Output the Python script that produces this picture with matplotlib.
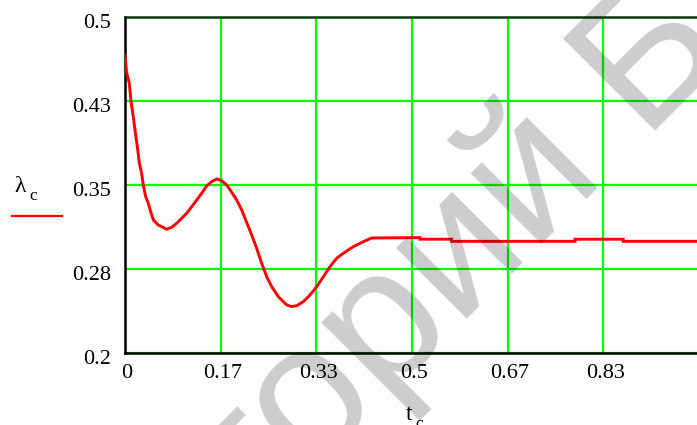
import numpy as np
import matplotlib
matplotlib.use("Agg")
import matplotlib.pyplot as plt
from matplotlib.transforms import ScaledTranslation
from matplotlib.textpath import TextToPath
from matplotlib.font_manager import FontProperties

# ---- data ----
t_c = [0.0, 0.003, 0.0075, 0.0105, 0.0145, 0.0174, 0.0215, 0.025, 0.029, 0.032,
       0.036, 0.0406, 0.0447, 0.0494, 0.058, 0.0726, 0.0813, 0.090, 0.0987, 0.1074,
       0.1162, 0.1249, 0.1336, 0.1423, 0.151, 0.1597, 0.1684, 0.1771, 0.1859, 0.1946,
       0.2033, 0.212, 0.2207, 0.2294, 0.2381, 0.2469, 0.2556, 0.2671, 0.2817, 0.290,
       0.2991, 0.3106, 0.3223, 0.334, 0.3455, 0.3571, 0.3688, 0.3803, 0.3977, 0.4152,
       0.4298, 0.514, 0.514, 0.569, 0.569, 0.784, 0.784, 0.868, 0.868, 1.0]
lambda_c = [0.465, 0.450, 0.4408, 0.4244, 0.411, 0.399, 0.3842, 0.3694, 0.3604, 0.3494,
            0.3396, 0.3337, 0.3262, 0.3188, 0.3143, 0.3105, 0.3122, 0.3158, 0.3203, 0.3247,
            0.3306, 0.3366, 0.3426, 0.3491, 0.3530, 0.3554, 0.3539, 0.3500, 0.3435, 0.3366,
            0.3277, 0.3166, 0.3054, 0.2935, 0.2801, 0.2681, 0.2592, 0.2503, 0.2429, 0.2415,
            0.2422, 0.2458, 0.2518, 0.2592, 0.2681, 0.2771, 0.2846, 0.2890, 0.2949, 0.2994,
            0.3027, 0.3030, 0.3016, 0.3016, 0.2997, 0.2997, 0.3016, 0.3016, 0.2997, 0.2997]
x_ticks = [0, 1/6, 2/6, 3/6, 4/6, 5/6, 1.0]
x_labels = ["0", "0.17", "0.33", "0.5", "0.67", "0.83", ""]
y_ticks = [0.2, 0.275, 0.35, 0.425, 0.5]
y_labels = ["0.2", "0.28", "0.35", "0.43", "0.5"]
watermark = "Репозиторий БГУИР"

W, H, DPI = 697, 425, 100
fig = plt.figure(figsize=(W / DPI, H / DPI), dpi=DPI)
serif = "Liberation Serif"

L, R, T, B = 125, 699, 17, 353
ax = fig.add_axes([L / W, (H - B) / H, (R - L) / W, (B - T) / H])
ax.set_facecolor("white")
ax.set_xlim(0, 1)
ax.set_ylim(0.2, 0.5)
ax.set_xticks(x_ticks)
ax.set_xticklabels(x_labels, fontfamily=serif, fontsize=16)
ax.set_yticks(y_ticks)
ax.set_yticklabels(y_labels, fontfamily=serif, fontsize=16)
ax.tick_params(length=0, pad=8)
ax.tick_params(axis="y", pad=10)
ax.grid(True, color="#00ff00", linewidth=1.6, zorder=1)
ax.set_axisbelow(True)
for s in ["left", "bottom"]:
    ax.spines[s].set_color("black")
    ax.spines[s].set_linewidth(1.8)
ax.spines["top"].set_color("#0a3a0a")
ax.spines["top"].set_linewidth(1.8)
ax.spines["right"].set_visible(False)

for lab in ax.get_yticklabels():
    lab.set_transform(lab.get_transform() + ScaledTranslation(0, -4 / DPI, fig.dpi_scale_trans))
for lab in ax.get_xticklabels():
    lab.set_transform(lab.get_transform() + ScaledTranslation(2 / DPI, 0, fig.dpi_scale_trans))

ax.plot(t_c, lambda_c, color="red", linewidth=2.1, zorder=3, solid_joinstyle="miter")

def px(x, y):
    return x / W, 1 - y / H

# legend-style y label
fig.text(*px(14, 192), "λ", fontfamily=serif, fontsize=17, va="baseline", ha="left")
fig.text(*px(29.5, 200), "c", fontfamily=serif, fontsize=12.5, va="baseline", ha="left")
fig.add_artist(plt.Line2D([12 / W, 62 / W], [1 - 215.7 / H, 1 - 215.7 / H],
                          color="red", linewidth=1.6))

# x label
fig.text(*px(406, 420), "t", fontfamily=serif, fontsize=17, va="baseline", ha="left")
fig.text(*px(415, 428), "c", fontfamily=serif, fontsize=12.5, va="baseline", ha="left")

# watermark
fs = 136
fp = FontProperties(family="Liberation Sans", weight="normal", size=fs)
w_pre, _, _ = TextToPath().get_text_width_height_descent("Репозиторий ", fp, ismath=False)
w_pre_px = w_pre * DPI / 72.0
bx, by = 644, 141  # glyph origin of 'Б' (pixels, y down)
sx = bx - w_pre_px / np.sqrt(2)
sy = by + w_pre_px / np.sqrt(2)
fig.text(sx / W, 1 - sy / H, watermark, fontproperties=fp, color="black", alpha=0.2,
         rotation=45, rotation_mode="anchor", ha="left", va="baseline", zorder=10)

fig.savefig("out.png", dpi=DPI)
